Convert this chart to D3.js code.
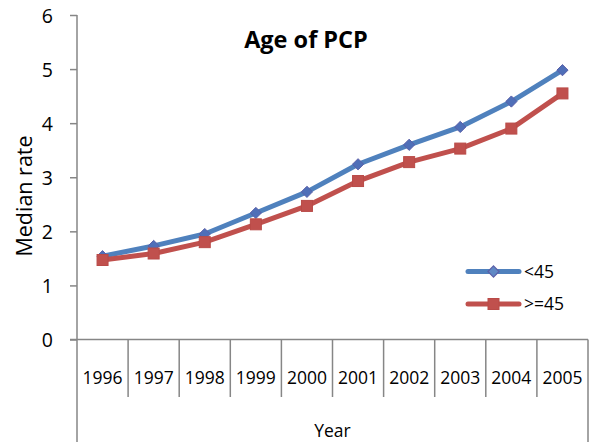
<!DOCTYPE html>
<html><head><meta charset="utf-8">
<script src="https://cdn.jsdelivr.net/npm/d3@7"></script>
<style>body{margin:0;background:#fff}svg{display:block}text{font-family:"Open Sans",sans-serif;fill:#000}</style>
</head><body><svg id="c" width="590" height="442"></svg>
<script>
const years = ["1996","1997","1998","1999","2000","2001","2002","2003","2004","2005"];
const under45 = [1.54,1.73,1.95,2.34,2.73,3.24,3.60,3.93,4.40,4.98];
const over45 = [1.47,1.59,1.80,2.13,2.47,2.93,3.28,3.53,3.90,4.55];
const yTicks = [0,1,2,3,4,5,6];
const seriesNames = ["<45", ">=45"];

const svg = d3.select("#c");
const L = 77, R = 588, T = 15, B = 339.5;
const x = d3.scaleBand().domain(years).range([L, R]).padding(0);
const y = d3.scaleLinear().domain([0, 6]).range([B, T]);
const axisCol = "#868686";

// y axis
const ya = svg.append("g").attr("transform", `translate(${L},0)`)
  .call(d3.axisLeft(y).tickValues(yTicks).tickSize(7).tickPadding(17).tickFormat(d3.format("d")));
ya.select(".domain").remove();
ya.selectAll("line").attr("stroke", axisCol).attr("stroke-width", 1.5);
ya.selectAll("text").attr("font-size", "19.5px").attr("font-family", "Open Sans").attr("fill", "#000").attr("dy", "0.36em");
svg.append("line").attr("x1", L).attr("x2", L).attr("y1", T).attr("y2", 442).attr("stroke", axisCol).attr("stroke-width", 1.5);

// x axis
svg.append("line").attr("x1", L - 7).attr("x2", R).attr("y1", B).attr("y2", B).attr("stroke", axisCol).attr("stroke-width", 1.5);
const xa = svg.append("g").attr("transform", `translate(0,${B})`)
  .call(d3.axisBottom(x).tickSize(0).tickPadding(0));
xa.select(".domain").remove();
xa.selectAll("text").attr("font-size", "17.5px").attr("font-family", "Open Sans").attr("fill", "#000").attr("dy", 0).attr("y", 44.5);
// category separators
years.slice(1).forEach(d => {
  svg.append("line").attr("x1", x(d)).attr("x2", x(d)).attr("y1", B).attr("y2", 397).attr("stroke", axisCol).attr("stroke-width", 1.5);
});
svg.append("line").attr("x1", R).attr("x2", R).attr("y1", B).attr("y2", 442).attr("stroke", axisCol).attr("stroke-width", 1.5);

// axis titles
svg.append("text").attr("x", (L + R) / 2).attr("y", 437).attr("text-anchor", "middle").attr("font-size", "17.5px").text("Year");
svg.append("text").attr("transform", `translate(32,196) rotate(-90)`).attr("text-anchor", "middle").attr("font-size", "21.5px").text("Median rate");
svg.append("text").attr("x", 306).attr("y", 48).attr("text-anchor", "middle").attr("font-size", "23.5px").attr("font-weight", "bold").text("Age of PCP");

const cx = d => x(d) + x.bandwidth() / 2;
const line = d3.line().x(d => cx(d[0])).y(d => y(d[1]));
const s1 = years.map((d, i) => [d, under45[i]]);
const s2 = years.map((d, i) => [d, over45[i]]);
const blue = "#4F81BD", red = "#C0504D";

svg.append("path").attr("d", line(s1)).attr("fill", "none").attr("stroke", blue).attr("stroke-width", 5).attr("stroke-linejoin", "round");
svg.append("path").attr("d", line(s2)).attr("fill", "none").attr("stroke", red).attr("stroke-width", 5).attr("stroke-linejoin", "round");

const diamond = d3.symbol().type(d3.symbolDiamond2).size(80);
svg.selectAll(".m1").data(s1).enter().append("path")
  .attr("d", diamond).attr("transform", d => `translate(${cx(d[0])},${y(d[1])})`)
  .attr("fill", "#4F6FB8").attr("stroke", "#5A5FA8").attr("stroke-width", 1);
svg.selectAll(".m2").data(s2).enter().append("rect")
  .attr("x", d => cx(d[0]) - 5.5).attr("y", d => y(d[1]) - 5.5).attr("width", 11).attr("height", 11)
  .attr("fill", red).attr("stroke", "#B94A47").attr("stroke-width", 1);

// legend
const lg = [{n: seriesNames[0], c: blue, yy: 271.5}, {n: seriesNames[1], c: red, yy: 304}];
lg.forEach((d, i) => {
  svg.append("line").attr("x1", 468).attr("x2", 519).attr("y1", d.yy).attr("y2", d.yy).attr("stroke", d.c).attr("stroke-width", 5).attr("stroke-linecap", "round");
  if (i === 0) {
    svg.append("path").attr("d", diamond).attr("transform", `translate(493.5,${d.yy})`).attr("fill", "#5F88C4").attr("stroke", "#5A5FA8").attr("stroke-width", 1.2);
  } else {
    svg.append("rect").attr("x", 488).attr("y", d.yy - 5.5).attr("width", 11).attr("height", 11).attr("fill", red).attr("stroke", "#B94A47");
  }
  svg.append("text").attr("x", 524).attr("y", d.yy).attr("dy", "0.36em").attr("font-size", "17.5px").text(d.n);
});
</script></body></html>
